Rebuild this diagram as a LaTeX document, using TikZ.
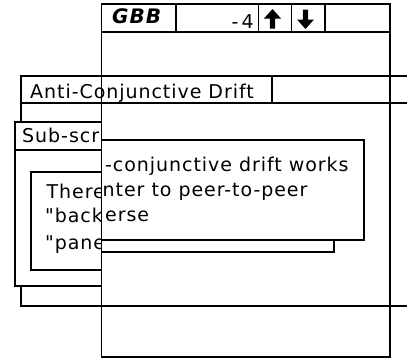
\documentclass[tikz,border=0pt]{standalone}
\usepackage{fontspec}
% screen font: tracked sans in the style of an old bitmap UI face
\newfontfamily\uifont[LetterSpace=5]{DejaVu Sans}
\begin{document}
\begin{tikzpicture}[x=1pt,y=-1pt,
  frame/.style={draw=black,line width=1.2pt},
  panel/.style={draw=black,fill=white,line width=1.2pt},
  txt/.style={inner sep=0pt,anchor=base west,font=\uifont\fontsize{19}{22}\selectfont},
  arrowglyph/.style={fill=black,draw=none}]
\useasboundingbox (0,0) rectangle (407,360);

% window in the back: "Anti-Conjunctive Drift"
\coordinate (acTopL) at (21,76);
\coordinate (acTopR) at (407,76);
\coordinate (acBotL) at (21,306);
\coordinate (acBotR) at (407,306);
\draw[frame] (acTopR) -- (acTopL) -- (acBotL) -- (acBotR);
\draw[frame] (21,103) -- (407,103);
\draw[frame] (272,76) -- (272,103);
\node[txt] (actitle) at (30,98) {Anti-Conjunctive Drift};

% sub-screen window with its inner text field
\draw[panel] (15,122) rectangle (101.5,286);
\draw[frame] (15,150) -- (101.5,150);
\node[txt] (subtitle) at (22,142) {Sub-scr};
\draw[panel] (31,172) rectangle (101.5,270);
\node[txt] (subA) at (46.5,198) {There};
\node[txt] (subB) at (45,222) {"back};
\node[txt] (subC) at (45,249) {"pane};

% main card frame with its header strip
\draw[frame] (101.5,4) rectangle (390,357);
\draw[frame] (101.5,32) -- (390,32);
\draw[frame] (176,4) -- (176,32);
\draw[frame] (258.5,4) -- (258.5,32);
\draw[frame] (291.7,4) -- (291.7,32);
\draw[frame] (325,4) -- (325,32);
\node[txt,font=\uifont\bfseries\itshape\fontsize{20}{22}\selectfont] (stack) at (112,23) {GBB};
\node[txt,anchor=base east] (count) at (254,28) {-\,4};
% up / down buttons
\fill[arrowglyph] (272.5,9) -- (281,18.5) -- (275.2,18.5) -- (275.2,28.5) -- (269.8,28.5)
  -- (269.8,18.5) -- (264,18.5) -- cycle;
\fill[arrowglyph] (305.5,29) -- (314,19.5) -- (308.2,19.5) -- (308.2,9.5) -- (302.8,9.5)
  -- (302.8,19.5) -- (297,19.5) -- cycle;

% pop-up note with its shadow box
\draw[panel] (101.5,150) rectangle (334,252);
\draw[panel] (101.5,140) rectangle (364,240);
\node[txt] (noteA) at (105,171.5) {-conjunctive drift works};
\node[txt] (noteB) at (102.5,196.5) {nter to peer-to-peer};
\node[txt] (noteC) at (105,221.5) {erse};
\end{tikzpicture}
\end{document}
